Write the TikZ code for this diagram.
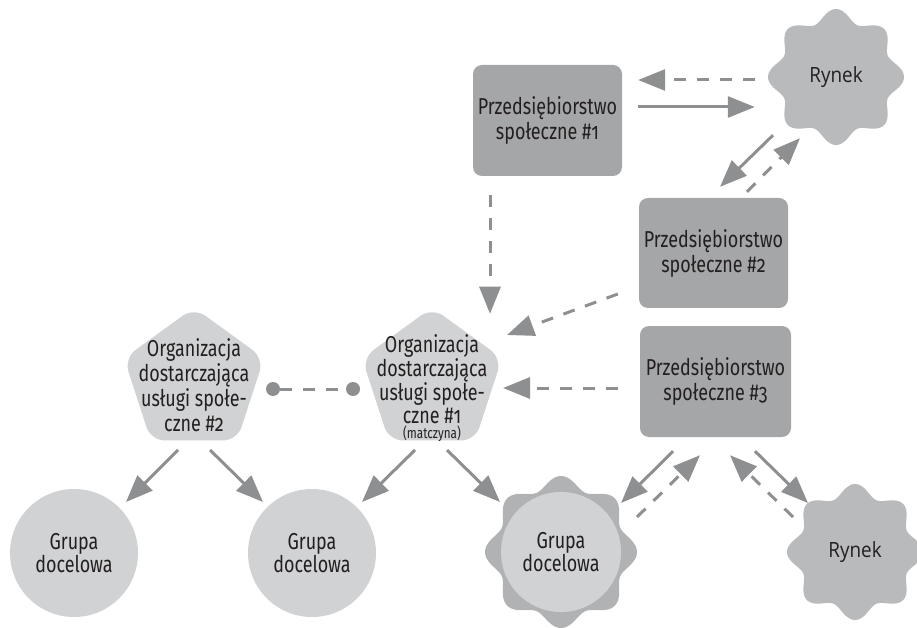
\documentclass[tikz,border=0pt]{standalone}
\usepackage{fontspec}
\setmainfont[Numbers=OldStyle,FakeStretch=0.78]{Fira Sans}
\newfontfamily\marketfont[FakeStretch=0.9]{Open Sans}
\usetikzlibrary{shapes.geometric,arrows.meta,calc}

\definecolor{firmgray}{HTML}{A5A6A8}
\definecolor{marketgray}{HTML}{B9BABC}
\definecolor{paleshape}{HTML}{D1D2D4}
\definecolor{ringgray}{HTML}{B1B2B4}
\definecolor{flowgray}{HTML}{8E8F91}
\definecolor{ink}{HTML}{231F20}

% eight-lobed badge: centre x, mean radius, lobe amplitude, colour
\newcommand{\badge}[4]{%
  \fill[#4] plot[domain=0:360,samples=241,variable=\t]
    ({#1+(#2+#3*cos(8*\t))*cos(\t)},{(#2+#3*cos(8*\t))*sin(\t)}) -- cycle;}

\begin{document}
\begin{tikzpicture}[x=1pt,y=1pt,
  txt/.style={text=ink,align=center,inner sep=0pt,font=\fontsize{23}{25}\selectfont},
  firm/.style={txt,fill=firmgray,rounded corners=9pt,minimum width=149pt,minimum height=111pt},
  orgshape/.style={regular polygon,regular polygon sides=5,minimum size=147pt,inner sep=0pt,
    fill=paleshape,rounded corners=14pt},
  target/.style={txt,circle,fill=paleshape,minimum size=128pt,font=\fontsize{23}{23}\selectfont},
  market/.style={txt,circle,minimum size=134pt,font=\marketfont\fontsize{21}{23}\selectfont},
  flow/.style={draw=flowgray,line width=3pt,-{Triangle[length=27pt,width=21pt]}},
  back/.style={flow,dash pattern=on 12pt off 11pt},
  link/.style={draw=flowgray,line width=3pt,dash pattern=on 12pt off 11pt},
  dot/.style={circle,fill=flowgray,minimum size=14pt,inner sep=0pt}]

\useasboundingbox (0,0) rectangle (917,627);

% badge backgrounds
\begin{scope}[yshift=550pt]\badge{836}{62}{6}{marketgray}\end{scope}
\begin{scope}[yshift=75pt]\badge{855}{62}{6}{marketgray}\end{scope}
\begin{scope}[yshift=75pt]\badge{561}{70}{6}{ringgray}\end{scope}

% social enterprises
\node[firm] (ps1) at (547.5,506.5) {Przedsiębiorstwo\\społeczne \#1};
\node[firm,minimum height=110pt] (ps2) at (713.5,374) {Przedsiębiorstwo\\społeczne \#2};
\node[firm,minimum width=151pt] (ps3) at (715.5,245.5) {Przedsiębiorstwo\\społeczne \#3};

% markets
\node[market] (rt) at (836,550) {Rynek};
\node[market] (rb) at (855,75) {Rynek};

% service organisations
\node[orgshape] (o2s) at (194,246) {};
\node[orgshape] (o1s) at (432,246) {};
\node[txt] (o2) at (194,242) {Organizacja\\dostarczająca\\usługi społe-\\czne \#2};
\node[txt,font=\fontsize{23}{22.5}\selectfont] (o1) at (432,239)
  {Organizacja\\dostarczająca\\usługi społe-\\czne \#1\\[-7pt]{\fontsize{15}{14}\selectfont(matczyna)}};

% target groups
\node[target] (g1) at (74,74) {Grupa\\docelowa};
\node[target] (g2) at (312,74) {Grupa\\docelowa};
\node[target,minimum size=120pt] (g3) at (561,75) {Grupa\\docelowa};

% enterprise 1 <-> market
\draw[back] ($(rt.west)+(-14,-3)$) -- ($(ps1.east)+(16,40.5)$);
\draw[flow] ($(ps1.east)+(16,13.5)$) -- ($(rt.west)+(-14,-30)$);
% market <-> enterprise 2
\draw[flow] ($(rt.south)+(-63,9)$) -- ($(ps2.north)+(6.5,11)$);
\draw[back] ($(ps2.north)+(33.5,6)$) -- ($(rt.south)+(-36,6)$);

% enterprises -> parent organisation
\draw[back] ($(ps1.south)+(-57.5,-19)$) -- ($(o1s.north)+(58,-6.5)$);
\draw[back] ($(ps2.west)+(-21,-41)$) -- ($(o1s.center)+(75,46)$);
\draw[back] ($(ps3.west)+(-22,-6.5)$) -- ($(o1s.center)+(71,-7)$);

% link between the two organisations
\node[dot] (dl) at ($(o2s.center)+(79,-8)$) {};
\node[dot] (dr) at ($(o1s.center)+(-79,-8)$) {};
\draw[link] (dl) -- (dr);

% organisations -> target groups
\draw[flow] ($(o2s.center)+(-16,-69)$) -- ($(g1.center)+(52,51)$);
\draw[flow] ($(o2s.center)+(16,-69)$) -- ($(g2.center)+(-49,51)$);
\draw[flow] ($(o1s.center)+(-17,-69)$) -- ($(g2.center)+(50,51)$);
\draw[flow] ($(o1s.center)+(15,-69)$) -- ($(g3.center)+(-61,50)$);

% enterprise 3 <-> target group and market
\draw[flow] ($(ps3.south)+(-42.5,-14)$) -- ($(g3.center)+(60,49)$);
\draw[back] ($(g3.center)+(76,35)$) -- ($(ps3.south)+(-15.5,-18)$);
\draw[flow] ($(ps3.south)+(39.5,-14)$) -- ($(rb.center)+(-47,49)$);
\draw[back] ($(rb.center)+(-62,35)$) -- ($(ps3.south)+(14.5,-18)$);
\end{tikzpicture}
\end{document}
